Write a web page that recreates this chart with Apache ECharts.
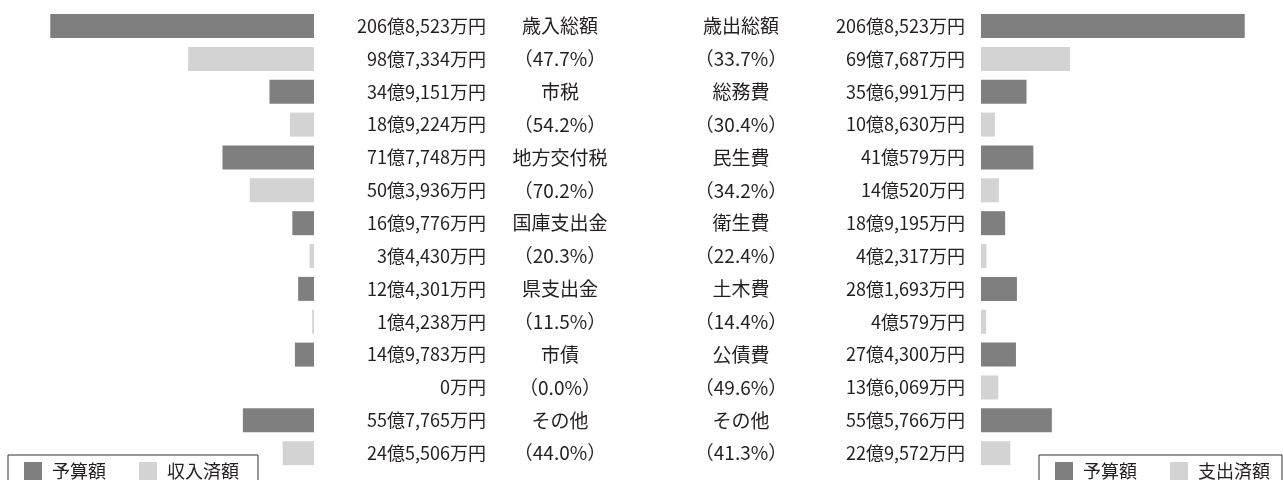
<!DOCTYPE html>
<html>
<head>
<meta charset="utf-8">
<script src="https://cdn.jsdelivr.net/npm/echarts@6/dist/echarts.min.js"></script>
<style>
  html, body { margin: 0; padding: 0; background: #fff; }
  #chart { width: 1283px; height: 480px; }
</style>
</head>
<body>
<div id="chart"></div>
<script>
// 金額は万円単位
var revItems = ['歳入総額', '市税', '地方交付税', '国庫支出金', '県支出金', '市債', 'その他'];
var revRates = ['（47.7%）', '（54.2%）', '（70.2%）', '（20.3%）', '（11.5%）', '（0.0%）', '（44.0%）'];
var revBudget = [2068523, 349151, 717748, 169776, 124301, 149783, 557765];
var revActual = [987334, 189224, 503936, 34430, 14238, 0, 245506];

var expItems = ['歳出総額', '総務費', '民生費', '衛生費', '土木費', '公債費', 'その他'];
var expRates = ['（33.7%）', '（30.4%）', '（34.2%）', '（22.4%）', '（14.4%）', '（49.6%）', '（41.3%）'];
var expBudget = [2068523, 356991, 410579, 189195, 281693, 274300, 555766];
var expActual = [697687, 108630, 140520, 42317, 40579, 136069, 229572];

var dark = '#7f7f7f';
var light = '#d3d3d3';
var textColor = '#231f20';
var font = '"Noto Sans CJK JP", sans-serif';

function yen(v) {
    var oku = Math.floor(v / 10000);
    var man = v % 10000;
    var s = '';
    if (oku > 0) s += oku + '億';
    if (man > 0 || oku == 0) s += man.toLocaleString('en-US');
    return s + '万円';
}

// 1行ずつ交互に予算額・済額
function rows(budget, actual, which) {
    var out = [];
    for (var i = 0; i < budget.length; i++) {
        out.push(which == 0 ? budget[i] : '-');
        out.push(which == 1 ? actual[i] : '-');
    }
    return out;
}
function labelRows(a, b) {
    var out = [];
    for (var i = 0; i < a.length; i++) { out.push(a[i]); out.push(b[i]); }
    return out;
}

var revAmountLabels = labelRows(revBudget.map(yen), revActual.map(yen));
var revNameLabels = labelRows(revItems, revRates);
var expAmountLabels = labelRows(expBudget.map(yen), expActual.map(yen));
var expNameLabels = labelRows(expItems, expRates);

var chart = echarts.init(document.getElementById('chart'));

function catAxis(grid, pos, data, margin, align, size) {
    return {
        type: 'category', gridIndex: grid, position: pos, inverse: true, data: data,
        axisLine: { show: false }, axisTick: { show: false }, splitLine: { show: false },
        axisLabel: { margin: margin, align: align, color: textColor, fontSize: size, fontFamily: font }
    };
}
function valAxis(grid, inverse) {
    return {
        type: 'value', gridIndex: grid, min: 0, max: 2200000, inverse: inverse, show: false
    };
}

var legendText = { color: textColor, fontSize: 18, fontFamily: font, padding: [0, 0, 0, 5] };

option = {
    animation: false,
    grid: [
        { left: 33.5, width: 280.5, top: 9.6, height: 460 },
        { left: 981, width: 280.5, top: 9.6, height: 460 }
    ],
    xAxis: [valAxis(0, true), valAxis(1, false)],
    yAxis: [
        catAxis(0, 'right', revAmountLabels, 172, 'right', 18),
        catAxis(0, 'right', revNameLabels, 246, 'center', 19),
        catAxis(1, 'left', expAmountLabels, 16, 'right', 18),
        catAxis(1, 'left', expNameLabels, 240, 'center', 19)
    ],
    legend: [
        {
            data: ['予算額', '収入済額'], left: 8, top: 455, orient: 'horizontal',
            icon: 'rect', itemWidth: 18, itemHeight: 18, itemGap: 33,
            padding: [7, 19, 12, 16], borderColor: '#333', borderWidth: 1,
            selectedMode: false, textStyle: legendText
        },
        {
            data: ['予算額', '支出済額'], left: 1039, top: 455, orient: 'horizontal',
            icon: 'rect', itemWidth: 18, itemHeight: 18, itemGap: 33,
            padding: [7, 12, 12, 16], borderColor: '#333', borderWidth: 1,
            selectedMode: false, textStyle: legendText
        }
    ],
    series: [
        { name: '予算額', type: 'bar', xAxisIndex: 0, yAxisIndex: 0, stack: 'L', barWidth: 24,
          itemStyle: { color: dark }, data: rows(revBudget, revActual, 0) },
        { name: '収入済額', type: 'bar', xAxisIndex: 0, yAxisIndex: 0, stack: 'L', barWidth: 24,
          barMinHeight: 1, itemStyle: { color: light }, data: rows(revBudget, revActual, 1) },
        { name: '予算額', type: 'bar', xAxisIndex: 1, yAxisIndex: 2, stack: 'R', barWidth: 24,
          itemStyle: { color: dark }, data: rows(expBudget, expActual, 0) },
        { name: '支出済額', type: 'bar', xAxisIndex: 1, yAxisIndex: 2, stack: 'R', barWidth: 24,
          itemStyle: { color: light }, data: rows(expBudget, expActual, 1) }
    ]
};

option && chart.setOption(option);
</script>
</body>
</html>
